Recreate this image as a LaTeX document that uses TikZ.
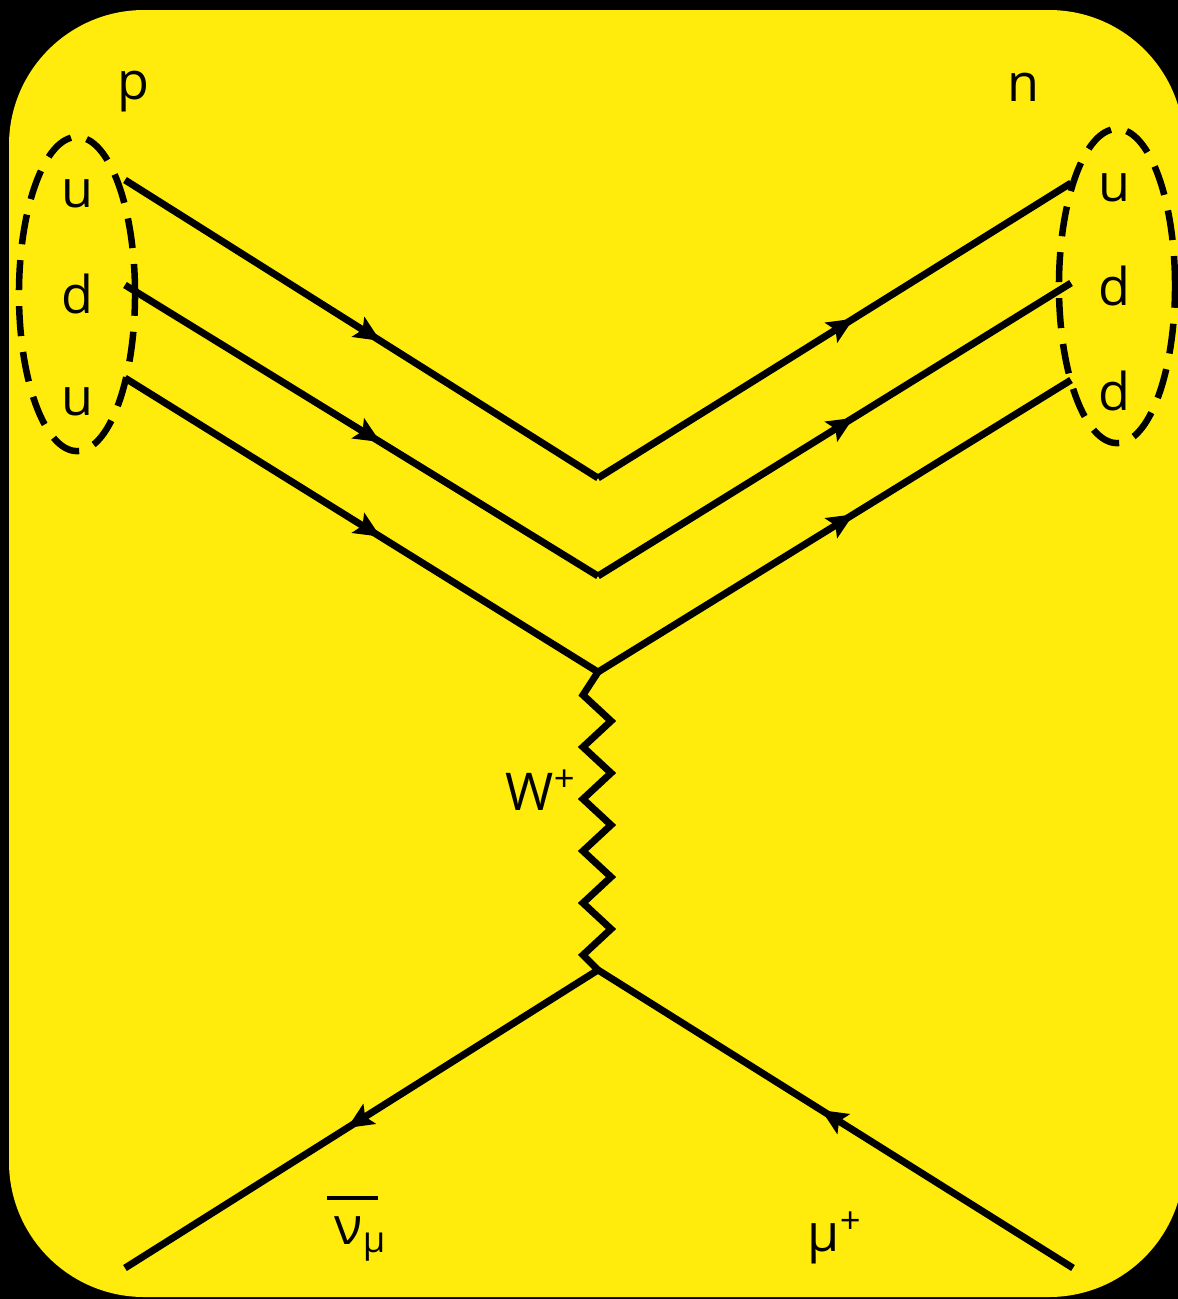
\documentclass[tikz,border=0pt]{standalone}
\usepackage{fontspec}
\setmainfont{Open Sans}
\usepackage{tikz}
\usetikzlibrary{arrows.meta,shapes.geometric,decorations.markings,calc}
\definecolor{bgyellow}{RGB}{255,236,12}

\begin{document}
\begin{tikzpicture}[
    x=0.01cm, y=-0.01cm,
    lbl/.style={font=\fontsize{14.8}{17}\selectfont, inner sep=0pt},
    quarkbag/.style={ellipse, draw, line width=0.065cm, dash pattern=on 0.3cm off 0.16cm,
        minimum width=1.16cm, minimum height=3.14cm, inner sep=0pt},
    fermion/.style={line width=0.07cm, postaction={decorate},
        decoration={markings, mark=at position #1 with
            {\arrow{Stealth[length=0.26cm, width=0.23cm, inset=0.05cm]}}}},
    fermion/.default=0.54,
    wline/.style={line width=0.07cm, line join=miter}
]
    % background
    \useasboundingbox (0,0) rectangle (1178,1299);
    \fill[black] (0,0) rectangle (1178,1299);
    \fill[bgyellow, rounded corners=1.35cm] (9,10) rectangle (1184,1297);

    % hadrons
    \node[lbl] (p) at (133,92) {p};
    \node[lbl] (n) at (1023,87) {n};
    \node[quarkbag] (pbag) at (77,294) {};
    \node[quarkbag] (nbag) at (1117,286) {};
    \node[lbl] (pu1) at (77,194) {u};
    \node[lbl] (pd)  at (77,294) {d};
    \node[lbl] (pu2) at (77,402) {u};
    \node[lbl] (nu)  at (1114,188) {u};
    \node[lbl] (nd1) at (1114,286) {d};
    \node[lbl] (nd2) at (1114,391) {d};

    % quark lines
    \coordinate (pu1e) at (125,180);
    \coordinate (pde)  at (125,285);
    \coordinate (pu2e) at (125,378);
    \coordinate (nue)  at (1071,183);
    \coordinate (nd1e) at (1071,283);
    \coordinate (nd2e) at (1071,380);
    \coordinate (b1) at (598,478);
    \coordinate (b2) at (598,576);
    \coordinate (wtop) at (598,672);
    \coordinate (wbot) at (598,970);
    \draw[fermion] (pu1e) -- (b1);
    \draw[fermion] (b1) -- (nue);
    \draw[fermion] (pde) -- (b2);
    \draw[fermion] (b2) -- (nd1e);
    \draw[fermion] (pu2e) -- (wtop);
    \draw[fermion] (wtop) -- (nd2e);

    % W boson
    \draw[wline] (wtop) -- (583,695)
        \foreach \k in {1,...,5} { -- (611,{669+52*\k}) -- (583,{695+52*\k}) } -- (wbot);
    \node[lbl] (wlab) at (541,790) {W\textsuperscript{+}};

    % leptons
    \coordinate (nuend) at (125,1268);
    \coordinate (muend) at (1073,1268);
    \draw[fermion=0.53] (wbot) -- (nuend);
    \draw[fermion=0.53] (muend) -- (wbot);
    \node[lbl] (nubar) at (361,1239) {ν\textsubscript{μ}};
    \draw[line width=0.045cm] ($(nubar.north)+(-34,-18)$) -- ++(51,0);
    \node[lbl] (mup) at (835,1238) {μ\textsuperscript{+}};
\end{tikzpicture}
\end{document}
